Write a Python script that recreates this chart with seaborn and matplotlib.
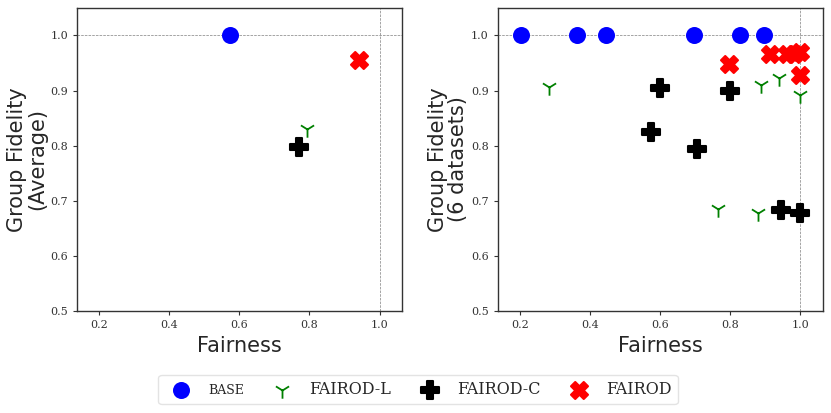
import matplotlib
matplotlib.use("Agg")
import matplotlib.pyplot as plt
import seaborn as sns

# 平均值 (左图)
avg_base_x = [0.572]
avg_base_y = [1.0]
avg_l_x = [0.792]
avg_l_y = [0.830]
avg_c_x = [0.771]
avg_c_y = [0.797]
avg_od_x = [0.941]
avg_od_y = [0.956]

# 6 个数据集 (右图)
ds_base_x = [0.204, 0.364, 0.445, 0.696, 0.829, 0.897]
ds_base_y = [1.0, 1.0, 1.0, 1.0, 1.0, 1.0]
ds_l_x = [0.284, 0.766, 0.879, 0.887, 0.940, 0.998]
ds_l_y = [0.906, 0.685, 0.677, 0.910, 0.922, 0.892]
ds_c_x = [0.600, 0.573, 0.706, 0.799, 0.946, 1.0]
ds_c_y = [0.904, 0.825, 0.794, 0.900, 0.683, 0.678]
ds_od_x = [0.796, 0.915, 0.962, 0.982, 0.998, 0.998]
ds_od_y = [0.949, 0.967, 0.966, 0.966, 0.970, 0.928]

labels = ['BASE', 'FAIROD-L', 'FAIROD-C', 'FAIROD']

sns.set_style("white")
plt.rcParams['font.family'] = ['DejaVu Serif']
plt.rcParams['axes.unicode_minus'] = False

fig = plt.figure(figsize=(8.31, 4.13), dpi=100)
ax1 = fig.add_axes([0.0927, 0.247, 0.391, 0.734])
ax2 = fig.add_axes([0.599, 0.247, 0.391, 0.734])


def draw(ax, bx, by, lx, ly, cx, cy, ox, oy, ylabel):
    ax.axhline(1.0, color='gray', linestyle='--', linewidth=0.5, zorder=0)
    ax.axvline(1.0, color='gray', linestyle='--', linewidth=0.5, zorder=0)
    sns.scatterplot(x=bx, y=by, ax=ax, color='blue', marker='o', s=150,
                    linewidth=0, label=labels[0], zorder=3)
    sns.scatterplot(x=lx, y=ly, ax=ax, color='green', marker='1', s=140,
                    linewidth=1.3, label=labels[1], zorder=3)
    sns.scatterplot(x=cx, y=cy, ax=ax, color='black', marker='P', s=150,
                    edgecolor='black', linewidth=1.5, label=labels[2], zorder=3)
    sns.scatterplot(x=ox, y=oy, ax=ax, color='red', marker='X', s=150,
                    edgecolor='red', linewidth=1.5, label=labels[3], zorder=3)
    ax.set_xlim(0.137, 1.064)
    ax.set_ylim(0.5, 1.05)
    ax.set_xticks([0.2, 0.4, 0.6, 0.8, 1.0])
    ax.set_yticks([0.5, 0.6, 0.7, 0.8, 0.9, 1.0])
    ax.tick_params(axis='both', labelsize=8, length=3, width=0.8,
                   direction='out', bottom=True, left=True, colors='#333333')
    for sp in ax.spines.values():
        sp.set_linewidth(1.0)
        sp.set_color('#333333')
    ax.set_xlabel('Fairness', fontsize=15, family='DejaVu Sans')
    ax.set_ylabel(ylabel, fontsize=15, family='DejaVu Sans', linespacing=1.0,
                  labelpad=2)
    ax.get_legend().remove()


draw(ax1, avg_base_x, avg_base_y, avg_l_x, avg_l_y, avg_c_x, avg_c_y,
     avg_od_x, avg_od_y, 'Group Fidelity\n(Average)')
draw(ax2, ds_base_x, ds_base_y, ds_l_x, ds_l_y, ds_c_x, ds_c_y,
     ds_od_x, ds_od_y, 'Group Fidelity\n(6 datasets)')

handles, labs = ax1.get_legend_handles_labels()
leg = fig.legend(handles, labs, loc='center', bbox_to_anchor=(0.503, 0.057),
                 ncol=4, fontsize=11.5, frameon=True, columnspacing=1.4,
                 handletextpad=0.7, borderpad=0.4)
leg.get_frame().set_edgecolor('#dddddd')
leg.get_texts()[0].set_fontsize(9)

fig.savefig('out.png', dpi=100)
